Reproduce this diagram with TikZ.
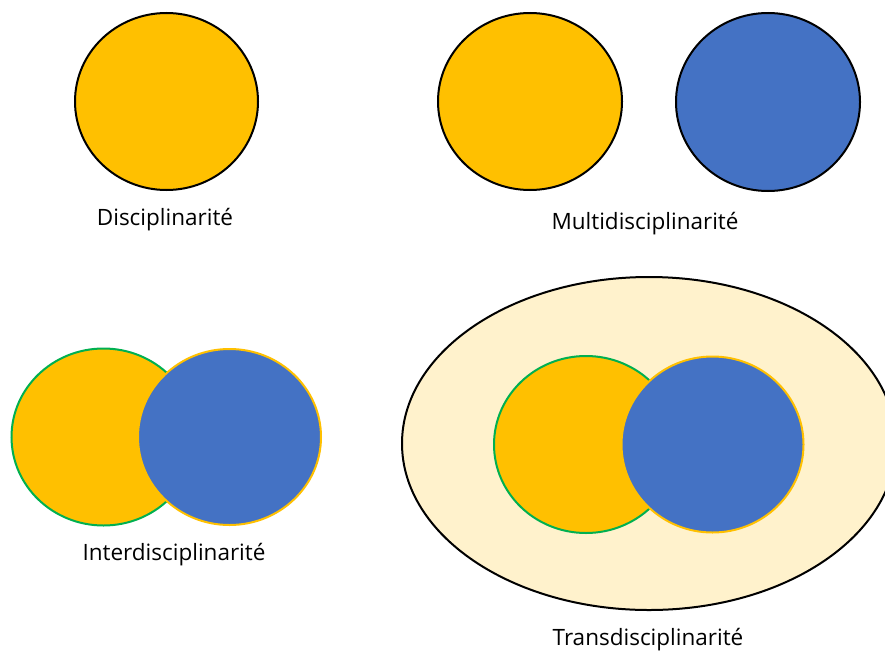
\documentclass[tikz,border=0pt]{standalone}
\usepackage{fontspec}
\setmainfont{Open Sans}
\definecolor{gold}{HTML}{FFC000}
\definecolor{steel}{HTML}{4472C4}
\definecolor{cream}{HTML}{FFF2CC}
\definecolor{leaf}{HTML}{00B050}
\tikzset{
  disc/.style={fill=gold, draw=black, line width=2pt},
  discB/.style={fill=steel, draw=black, line width=2pt},
  left disc/.style={fill=gold, draw=leaf, line width=2pt},
  right disc/.style={fill=steel, draw=gold, line width=2pt},
  caption/.style={font=\fontsize{22.5}{27}\selectfont, inner sep=0pt}
}
\begin{document}
\begin{tikzpicture}[x=1pt,y=-1pt]
  \useasboundingbox (0,0) rectangle (885,653);
  \begin{scope}
    \clip (0,0) rectangle (885,653);
    % single discipline
    \draw[disc] (166.5,101.5) ellipse [x radius=91.5, y radius=88.5];
    \node[caption] (d) at (165,220) {Disciplinarité};
    % two separate disciplines
    \draw[disc] (530,101.5) ellipse [x radius=92, y radius=88.5];
    \draw[discB] (768,102) ellipse [x radius=92, y radius=89];
    \node[caption] (m) at (645,224) {Multidisciplinarité};
    % overlapping disciplines
    \draw[left disc] (103.5,437) ellipse [x radius=92, y radius=88.5];
    \draw[right disc] (229.5,437) ellipse [x radius=91.5, y radius=88];
    \node[caption] (i) at (174,555) {Interdisciplinarité};
    % overlapping disciplines inside a wider field
    \draw[fill=cream, draw=black, line width=2pt] (649,443.5) ellipse [x radius=247, y radius=166.5];
    \draw[left disc] (586,444.5) ellipse [x radius=92, y radius=88.5];
    \draw[right disc] (712.5,444.5) ellipse [x radius=91, y radius=88];
    \node[caption] (t) at (648,640) {Transdisciplinarité};
  \end{scope}
\end{tikzpicture}
\end{document}
